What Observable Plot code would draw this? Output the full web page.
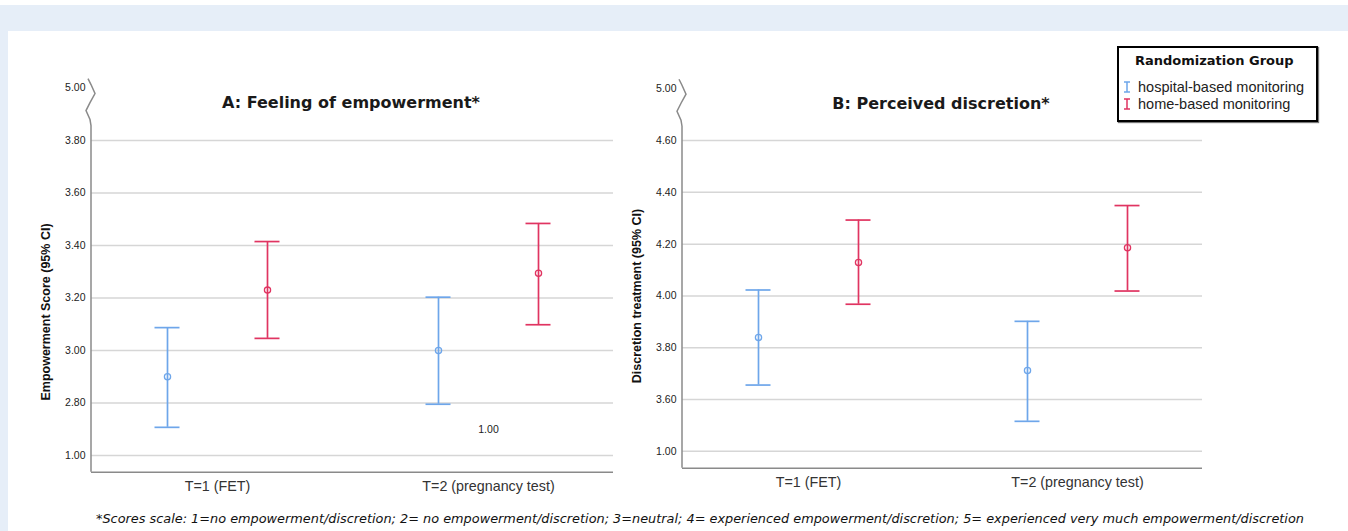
<!DOCTYPE html>
<html>
<head>
<meta charset="utf-8">
<script src="https://cdn.jsdelivr.net/npm/d3@7"></script>
<script src="https://cdn.jsdelivr.net/npm/@observablehq/plot@0.6"></script>
<style>
  html, body { margin: 0; padding: 0; background: #fff; }
  #page { position: relative; width: 1348px; height: 531px; background: #fff; overflow: hidden; font-family: "Liberation Sans", Arial, sans-serif; }
  #band { position: absolute; left: 0; top: 5px; width: 1348px; height: 26px; background: #e6eef8; }
  #strip { position: absolute; left: 0; top: 5px; width: 8px; height: 526px; background: #e6eef8; }
  .panel { position: absolute; top: 40px; }
  .title { position: absolute; font-family: "DejaVu Sans", sans-serif; font-weight: bold; font-size: 16px; color: #1a1a1a; transform: translate(-50%, -50%); white-space: nowrap; }
  .ylab { position: absolute; font-family: "Liberation Sans", Arial, sans-serif; font-weight: bold; font-size: 12.5px; color: #111; transform: translate(-50%, -50%) rotate(-90deg); white-space: nowrap; }
  #legend { position: absolute; left: 1117px; top: 46px; width: 201px; height: 76px; box-sizing: border-box; border: 2.5px solid #000; background: #fff; box-shadow: 1px 1px 1px #777; }
  #legend .lt { position: absolute; left: 16px; top: 5px; font-family: "DejaVu Sans", sans-serif; font-weight: bold; font-size: 13px; color: #111; white-space: nowrap; }
  #legend .li { position: absolute; left: 4px; font-size: 14.5px; color: #222; white-space: nowrap; display: flex; align-items: center; }
  #legend .li svg { margin-right: 7px; }
  #caption { position: absolute; left: 96px; top: 510px; font-family: "DejaVu Sans", sans-serif; font-style: italic; font-size: 13px; color: #111; white-space: nowrap; }
</style>
</head>
<body>
<div id="page">
  <div id="band"></div>
  <div id="strip"></div>
</div>
<script>
// ---------- data ----------
const times = ["T=1 (FET)", "T=2 (pregnancy test)"];
const groups = ["hospital-based monitoring", "home-based monitoring"];
const groupColors = ["#6ea6ea", "#e03461"];

// Panel A: Feeling of empowerment (mean and 95% CI)
const empHospMean = [2.90, 3.00];
const empHospLow  = [2.707, 2.795];
const empHospHigh = [3.087, 3.203];
const empHomeMean = [3.23, 3.294];
const empHomeLow  = [3.046, 3.098];
const empHomeHigh = [3.415, 3.484];

// Panel B: Perceived discretion (mean and 95% CI)
const discHospMean = [3.84, 3.712];
const discHospLow  = [3.656, 3.516];
const discHospHigh = [4.023, 3.902];
const discHomeMean = [4.129, 4.186];
const discHomeLow  = [3.968, 4.019];
const discHomeHigh = [4.293, 4.349];

// Broken axes: tick positions and the labels printed at them
const empTicks = [2.6, 2.8, 3.0, 3.2, 3.4, 3.6, 3.8, 4.0];
const empTickLabels = ["1.00", "2.80", "3.00", "3.20", "3.40", "3.60", "3.80", "5.00"];
const discTicks = [3.4, 3.6, 3.8, 4.0, 4.2, 4.4, 4.6, 4.8];
const discTickLabels = ["1.00", "3.60", "3.80", "4.00", "4.20", "4.40", "4.60", "5.00"];

// stray label printed inside panel A
const strayLabels = [{time: "T=2 (pregnancy test)", value: 2.70, text: "1.00"}];

const titles = ["A: Feeling of empowerment*", "B: Perceived discretion*"];
const yLabels = ["Empowerment Score (95% CI)", "Discretion treatment (95% CI)"];
const captionText = "*Scores scale: 1=no empowerment/discretion; 2= no empowerment/discretion; 3=neutral; 4= experienced empowerment/discretion; 5= experienced very much empowerment/discretion";

// ---------- drawing ----------
const page = document.getElementById("page");

function rowsOf(mean, lo, hi) {
  return times.map((t, i) => ({time: t, mean: mean[i], lo: lo[i], hi: hi[i]}));
}

function errorMarks(data, color, dx) {
  const sw = 1.7;
  const cap = {x1: "time", x2: "time", stroke: color, strokeWidth: sw, dx, insetLeft: -12.5, insetRight: -12.5};
  return [
    Plot.ruleX(data, {x: "time", y1: "lo", y2: "hi", stroke: color, strokeWidth: sw, dx}),
    Plot.ruleY(data, {y: "lo", ...cap}),
    Plot.ruleY(data, {y: "hi", ...cap}),
    Plot.dot(data, {x: "time", y: "mean", r: 3.1, stroke: color, strokeWidth: 1.3, fill: "none", dx})
  ];
}

function axisLineMark(topTick) {
  return (index, scales, values, dims) => {
    const x0 = dims.marginLeft;
    const yt = scales.y(topTick);
    const zig = [[-3, -9], [0, -3], [4, 6], [-1, 15], [-5, 23], [-1, 32], [0, 38]];
    const p = d3.path();
    zig.forEach(([dx, dy], i) => i ? p.lineTo(x0 + dx, yt + dy) : p.moveTo(x0 + dx, yt + dy));
    p.lineTo(x0, dims.height - dims.marginBottom);
    return d3.create("svg:path")
      .attr("d", p.toString())
      .attr("fill", "none")
      .attr("stroke", "#8a8a8a")
      .attr("stroke-width", 1.5)
      .node();
  };
}

function panel(o) {
  const label = new Map(o.ticks.map((t, i) => [t, o.labels[i]]));
  const gridTicks = o.ticks.slice(0, -1);
  const chart = Plot.plot({
    width: o.width, height: o.height,
    marginTop: 20, marginLeft: o.marginLeft, marginRight: o.marginRight, marginBottom: o.marginBottom,
    style: {fontFamily: '"Liberation Sans", Arial, sans-serif', background: "transparent", overflow: "visible"},
    x: {type: "point", domain: times, padding: 0.463},
    y: {domain: o.domain},
    marks: [
      Plot.ruleY(gridTicks, {stroke: "#d6d6d6", strokeWidth: 1.5}),
      Plot.ruleY([o.domain[0]], {stroke: "#8a8a8a", strokeWidth: 1.5}),
      axisLineMark(o.ticks[o.ticks.length - 1]),
      Plot.axisY({ticks: o.ticks, tickFormat: d => label.get(d), tickSize: 0, tickPadding: 6, fontSize: 10.5, label: null, color: "#222"}),
      Plot.axisX({tickSize: 0, tickPadding: 9, fontSize: 14.3, label: null, color: "#333"}),
      ...errorMarks(o.hosp, groupColors[0], -50),
      ...errorMarks(o.home, groupColors[1], 50),
      ...(o.extra || [])
    ]
  });
  chart.classList.add("panel");
  chart.style.left = o.left + "px";
  page.appendChild(chart);
}

panel({
  left: 0, width: 650, height: 470, marginLeft: 91, marginRight: 37, marginBottom: 38.3,
  domain: [2.536, 4.105], ticks: empTicks, labels: empTickLabels,
  hosp: rowsOf(empHospMean, empHospLow, empHospHigh),
  home: rowsOf(empHomeMean, empHomeLow, empHomeHigh),
  extra: [Plot.text(strayLabels, {x: "time", y: "value", text: "text", fontSize: 10.5, fill: "#222"})]
});

panel({
  left: 590, width: 650, height: 470, marginLeft: 92, marginRight: 38, marginBottom: 42.3,
  domain: [3.335, 4.909], ticks: discTicks, labels: discTickLabels,
  hosp: rowsOf(discHospMean, discHospLow, discHospHigh),
  home: rowsOf(discHomeMean, discHomeLow, discHomeHigh)
});

// titles & y labels
function addDiv(cls, text, x, y) {
  const d = document.createElement("div");
  if (cls) d.className = cls;
  d.textContent = text;
  d.style.left = x + "px"; d.style.top = y + "px";
  page.appendChild(d);
  return d;
}
addDiv("title", titles[0], 351, 102);
addDiv("title", titles[1], 941, 103);
addDiv("ylab", yLabels[0], 46, 312);
addDiv("ylab", yLabels[1], 637, 296);

// legend
const legend = document.createElement("div");
legend.id = "legend";
const lt = document.createElement("div");
lt.className = "lt"; lt.textContent = "Randomization Group";
legend.appendChild(lt);
groups.forEach((g, i) => {
  const row = document.createElement("div");
  row.className = "li";
  row.style.top = (31 + i * 17.3) + "px";
  const c = groupColors[i];
  row.innerHTML = `<svg width="8" height="12" viewBox="0 0 8 12"><path d="M1,1H7M4,1V11M1,11H7" stroke="${c}" stroke-width="1.5" fill="none"/></svg>`;
  row.appendChild(document.createTextNode(g));
  legend.appendChild(row);
});
page.appendChild(legend);

// caption, fitted to the reference width
const cap = document.createElement("div");
cap.id = "caption";
cap.textContent = captionText;
page.appendChild(cap);
const w = cap.getBoundingClientRect().width;
const fs = 13 * 1209 / w;
cap.style.fontSize = fs.toFixed(2) + "px";
cap.style.top = (519 - fs * 0.6) + "px";
</script>
</body>
</html>
